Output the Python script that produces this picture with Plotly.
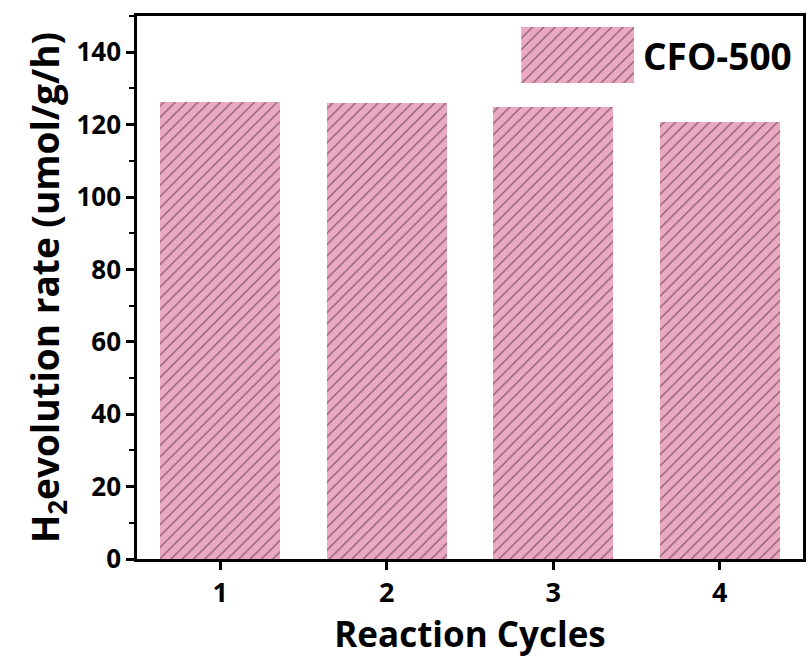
import plotly.graph_objects as go

cycles = ["1", "2", "3", "4"]
rates = [126.3, 126.0, 124.8, 120.8]
series_name = "CFO-500"
y_ticks = [0, 20, 40, 60, 80, 100, 120, 140]

PINK = "#EBA8C3"
LINE = "#1a0a10"
FONT = "Open Sans"

pattern = dict(shape="/", fgcolor=LINE, bgcolor=PINK, size=8, solidity=0.15)

fig = go.Figure()
fig.add_trace(go.Bar(
    x=[1, 2, 3, 4], y=rates, width=0.72, name=series_name,
    marker=dict(color=PINK, line=dict(width=0), pattern=pattern),
    showlegend=False,
))
# legend key drawn as an inset bar
fig.add_trace(go.Bar(
    x=[0], y=[1], width=1, xaxis="x2", yaxis="y2", showlegend=False,
    marker=dict(color=PINK, line=dict(width=0), pattern=pattern),
    hoverinfo="skip",
))

axis_line = dict(showline=True, linecolor="black", linewidth=2.5, mirror=True)

fig.update_layout(
    width=811, height=659,
    margin=dict(l=137, r=5, t=16, b=100),
    plot_bgcolor="white", paper_bgcolor="white",
    font=dict(family=FONT, color="black"),
    xaxis=dict(
        range=[0.5, 4.5], tickvals=[1, 2, 3, 4], ticktext=cycles,
        ticks="outside", ticklen=8, tickwidth=2.5, tickcolor="black",
        tickfont=dict(size=27, family=FONT, weight="bold", color="black"),
        title=dict(text="Reaction Cycles", font=dict(size=35, family=FONT, weight="bold"), standoff=0),
        showgrid=False, zeroline=False, **axis_line,
    ),
    yaxis=dict(
        range=[0, 150], tickvals=y_ticks,
        ticks="outside", ticklen=8, tickwidth=2.5, tickcolor="black",
        minor=dict(dtick=10, ticks="outside", ticklen=5, tickwidth=2, tickcolor="black"),
        tickfont=dict(size=26, family=FONT, weight="bold", color="black"),
        title=dict(text="H<sub>2</sub>evolution rate (umol/g/h)",
                   font=dict(size=37, family=FONT, weight="bold"), standoff=6),
        showgrid=False, zeroline=False, **axis_line,
    ),
    xaxis2=dict(domain=[(523 - 137) / 669, (637 - 137) / 669], anchor="y2",
                range=[-0.5, 0.5], visible=False, fixedrange=True),
    yaxis2=dict(domain=[(559 - 83) / 543, (559 - 27) / 543], anchor="x2",
                range=[0, 1], visible=False, fixedrange=True),
    annotations=[dict(
        text=series_name, xref="paper", yref="paper",
        x=(643 - 137) / 669, y=(559 - 55) / 543, xanchor="left", yanchor="middle",
        showarrow=False, font=dict(size=37, family=FONT, weight="bold", color="black"),
    )],
    bargap=0,
)

fig.write_html("out.html")
